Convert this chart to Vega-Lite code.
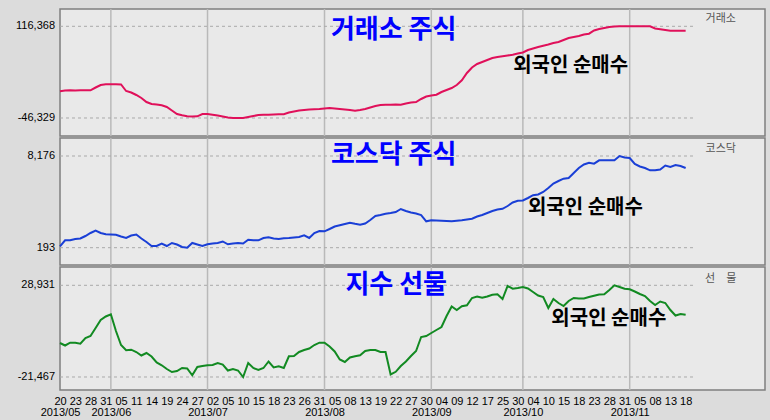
{
"$schema": "https://vega.github.io/schema/vega-lite/v6.json",
"background": "#dcdcdc",
"padding": {"left": 15, "top": 7, "right": 5, "bottom": 2},
"spacing": 2,
"bounds": "flush",
"config": {
  "font": "Liberation Sans",
  "locale": {"number": {"decimal": ".", "thousands": ",", "grouping": [3], "currency": ["$", ""], "minus": "-"}},
  "view": {"fill": "#e9e9e9", "stroke": "#7f7f7f", "strokeWidth": 1.5}
},
"datasets": {
  "months": [{"i":10,"m":"2013/06"},{"i":29,"m":"2013/07"},{"i":52,"m":"2013/08"},{"i":73,"m":"2013/09"},{"i":91,"m":"2013/10"},{"i":112,"m":"2013/11"}],
  "main": [
{"i":0,"date":"2013-05-20","kse":1040,"kosdaq":315,"fut":-2781},
{"i":1,"date":"2013-05-21","kse":2460,"kosdaq":838,"fut":-4155},
{"i":2,"date":"2013-05-22","kse":2810,"kosdaq":838,"fut":-2616},
{"i":3,"date":"2013-05-23","kse":2460,"kosdaq":951,"fut":-2616},
{"i":4,"date":"2013-05-24","kse":2810,"kosdaq":994,"fut":-3166},
{"i":5,"date":"2013-05-27","kse":2810,"kosdaq":1212,"fut":-33},
{"i":6,"date":"2013-05-28","kse":2810,"kosdaq":1473,"fut":1066},
{"i":7,"date":"2013-05-29","kse":7780,"kosdaq":1691,"fut":5463},
{"i":8,"date":"2013-05-30","kse":12220,"kosdaq":1473,"fut":9860},
{"i":9,"date":"2013-05-31","kse":13460,"kosdaq":1360,"fut":11783},
{"i":10,"date":"2013-06-03","kse":13460,"kosdaq":1343,"fut":12993},
{"i":11,"date":"2013-06-04","kse":13460,"kosdaq":1325,"fut":3814},
{"i":12,"date":"2013-06-05","kse":13100,"kosdaq":1168,"fut":-3880},
{"i":13,"date":"2013-06-07","kse":1570,"kosdaq":1038,"fut":-6793},
{"i":14,"date":"2013-06-10","kse":-1090,"kosdaq":1256,"fut":-6463},
{"i":15,"date":"2013-06-11","kse":-5530,"kosdaq":1343,"fut":-7727},
{"i":16,"date":"2013-06-12","kse":-10850,"kosdaq":994,"fut":-9651},
{"i":17,"date":"2013-06-13","kse":-17950,"kosdaq":690,"fut":-8277},
{"i":18,"date":"2013-06-14","kse":-21500,"kosdaq":341,"fut":-10201},
{"i":19,"date":"2013-06-17","kse":-22380,"kosdaq":341,"fut":-13498},
{"i":20,"date":"2013-06-18","kse":-23800,"kosdaq":542,"fut":-15037},
{"i":21,"date":"2013-06-19","kse":-26820,"kosdaq":341,"fut":-17071},
{"i":22,"date":"2013-06-20","kse":-33030,"kosdaq":603,"fut":-18719},
{"i":23,"date":"2013-06-21","kse":-39240,"kosdaq":472,"fut":-18170},
{"i":24,"date":"2013-06-24","kse":-41550,"kosdaq":254,"fut":-16521},
{"i":25,"date":"2013-06-25","kse":-43320,"kosdaq":193,"fut":-16796},
{"i":26,"date":"2013-06-26","kse":-43670,"kosdaq":603,"fut":-20533},
{"i":27,"date":"2013-06-27","kse":-43320,"kosdaq":472,"fut":-15971},
{"i":28,"date":"2013-06-28","kse":-39240,"kosdaq":341,"fut":-15422},
{"i":29,"date":"2013-07-01","kse":-39240,"kosdaq":489,"fut":-15037},
{"i":30,"date":"2013-07-02","kse":-40480,"kosdaq":559,"fut":-14872},
{"i":31,"date":"2013-07-03","kse":-41900,"kosdaq":603,"fut":-13773},
{"i":32,"date":"2013-07-04","kse":-43670,"kosdaq":733,"fut":-14597},
{"i":33,"date":"2013-07-05","kse":-45450,"kosdaq":489,"fut":-17895},
{"i":34,"date":"2013-07-08","kse":-46329,"kosdaq":559,"fut":-17071},
{"i":35,"date":"2013-07-09","kse":-46329,"kosdaq":603,"fut":-17895},
{"i":36,"date":"2013-07-10","kse":-46329,"kosdaq":559,"fut":-21467},
{"i":37,"date":"2013-07-11","kse":-44560,"kosdaq":890,"fut":-13773},
{"i":38,"date":"2013-07-12","kse":-42790,"kosdaq":838,"fut":-16521},
{"i":39,"date":"2013-07-15","kse":-41010,"kosdaq":838,"fut":-17620},
{"i":40,"date":"2013-07-16","kse":-40480,"kosdaq":1038,"fut":-16521},
{"i":41,"date":"2013-07-17","kse":-40480,"kosdaq":1099,"fut":-12949},
{"i":42,"date":"2013-07-18","kse":-40130,"kosdaq":994,"fut":-16246},
{"i":43,"date":"2013-07-19","kse":-39770,"kosdaq":951,"fut":-15587},
{"i":44,"date":"2013-07-22","kse":-39770,"kosdaq":1012,"fut":-16521},
{"i":45,"date":"2013-07-23","kse":-36580,"kosdaq":1038,"fut":-10091},
{"i":46,"date":"2013-07-24","kse":-34800,"kosdaq":1081,"fut":-9926},
{"i":47,"date":"2013-07-25","kse":-33030,"kosdaq":1125,"fut":-7727},
{"i":48,"date":"2013-07-26","kse":-32140,"kosdaq":1273,"fut":-6628},
{"i":49,"date":"2013-07-29","kse":-31250,"kosdaq":1038,"fut":-5804},
{"i":50,"date":"2013-07-30","kse":-30900,"kosdaq":1473,"fut":-3880},
{"i":51,"date":"2013-07-31","kse":-30370,"kosdaq":1647,"fut":-2616},
{"i":52,"date":"2013-08-01","kse":-29480,"kosdaq":1621,"fut":-2616},
{"i":53,"date":"2013-08-02","kse":-28590,"kosdaq":1821,"fut":-4705},
{"i":54,"date":"2013-08-05","kse":-29480,"kosdaq":2039,"fut":-7453},
{"i":55,"date":"2013-08-06","kse":-30370,"kosdaq":2152,"fut":-11849},
{"i":56,"date":"2013-08-07","kse":-31250,"kosdaq":2257,"fut":-13223},
{"i":57,"date":"2013-08-08","kse":-32140,"kosdaq":2370,"fut":-10750},
{"i":58,"date":"2013-08-09","kse":-33380,"kosdaq":2274,"fut":-10091},
{"i":59,"date":"2013-08-12","kse":-32140,"kosdaq":2196,"fut":-9541},
{"i":60,"date":"2013-08-13","kse":-30370,"kosdaq":2300,"fut":-7178},
{"i":61,"date":"2013-08-14","kse":-27710,"kosdaq":2605,"fut":-6628},
{"i":62,"date":"2013-08-16","kse":-25040,"kosdaq":2953,"fut":-6628},
{"i":63,"date":"2013-08-19","kse":-23270,"kosdaq":3040,"fut":-7727},
{"i":64,"date":"2013-08-20","kse":-22740,"kosdaq":3153,"fut":-7727},
{"i":65,"date":"2013-08-21","kse":-22740,"kosdaq":3214,"fut":-20093},
{"i":66,"date":"2013-08-22","kse":-22380,"kosdaq":3301,"fut":-18609},
{"i":67,"date":"2013-08-23","kse":-22740,"kosdaq":3562,"fut":-15422},
{"i":68,"date":"2013-08-26","kse":-20610,"kosdaq":3388,"fut":-12949},
{"i":69,"date":"2013-08-27","kse":-18830,"kosdaq":3258,"fut":-9926},
{"i":70,"date":"2013-08-28","kse":-17950,"kosdaq":3171,"fut":-7178},
{"i":71,"date":"2013-08-29","kse":-12620,"kosdaq":3040,"fut":517},
{"i":72,"date":"2013-08-30","kse":-8190,"kosdaq":2492,"fut":1066},
{"i":73,"date":"2013-09-02","kse":-6410,"kosdaq":2579,"fut":2715},
{"i":74,"date":"2013-09-03","kse":-4990,"kosdaq":2561,"fut":4364},
{"i":75,"date":"2013-09-04","kse":-200,"kosdaq":2535,"fut":6013},
{"i":76,"date":"2013-09-05","kse":3350,"kosdaq":2518,"fut":12058},
{"i":77,"date":"2013-09-06","kse":6890,"kosdaq":2492,"fut":17279},
{"i":78,"date":"2013-09-09","kse":12220,"kosdaq":2535,"fut":15356},
{"i":79,"date":"2013-09-10","kse":20560,"kosdaq":2579,"fut":17389},
{"i":80,"date":"2013-09-11","kse":33510,"kosdaq":2648,"fut":17939},
{"i":81,"date":"2013-09-12","kse":43270,"kosdaq":2718,"fut":21951},
{"i":82,"date":"2013-09-13","kse":49480,"kosdaq":2909,"fut":22775},
{"i":83,"date":"2013-09-16","kse":53030,"kosdaq":3040,"fut":22061},
{"i":84,"date":"2013-09-17","kse":56570,"kosdaq":3214,"fut":22775},
{"i":85,"date":"2013-09-23","kse":60120,"kosdaq":3388,"fut":23765},
{"i":86,"date":"2013-09-24","kse":61900,"kosdaq":3519,"fut":23985},
{"i":87,"date":"2013-09-25","kse":63140,"kosdaq":3580,"fut":21401},
{"i":88,"date":"2013-09-26","kse":64560,"kosdaq":3823,"fut":28546},
{"i":89,"date":"2013-09-27","kse":65980,"kosdaq":4128,"fut":27062},
{"i":90,"date":"2013-09-30","kse":68110,"kosdaq":4276,"fut":27447},
{"i":91,"date":"2013-10-01","kse":69880,"kosdaq":4302,"fut":27997},
{"i":92,"date":"2013-10-02","kse":74320,"kosdaq":4520,"fut":27172},
{"i":93,"date":"2013-10-04","kse":76980,"kosdaq":4764,"fut":25249},
{"i":94,"date":"2013-10-07","kse":79640,"kosdaq":4825,"fut":23325},
{"i":95,"date":"2013-10-08","kse":81770,"kosdaq":5042,"fut":22501},
{"i":96,"date":"2013-10-10","kse":84080,"kosdaq":5390,"fut":16455},
{"i":97,"date":"2013-10-11","kse":86740,"kosdaq":5782,"fut":21401},
{"i":98,"date":"2013-10-14","kse":88510,"kosdaq":6000,"fut":19203},
{"i":99,"date":"2013-10-15","kse":92060,"kosdaq":6200,"fut":17554},
{"i":100,"date":"2013-10-16","kse":95610,"kosdaq":6261,"fut":20302},
{"i":101,"date":"2013-10-17","kse":97380,"kosdaq":6696,"fut":21951},
{"i":102,"date":"2013-10-18","kse":99160,"kosdaq":7131,"fut":21676},
{"i":103,"date":"2013-10-21","kse":101820,"kosdaq":7436,"fut":21676},
{"i":104,"date":"2013-10-22","kse":103240,"kosdaq":7593,"fut":22501},
{"i":105,"date":"2013-10-23","kse":108920,"kosdaq":7506,"fut":23215},
{"i":106,"date":"2013-10-24","kse":111580,"kosdaq":7802,"fut":23875},
{"i":107,"date":"2013-10-25","kse":113350,"kosdaq":7802,"fut":23985},
{"i":108,"date":"2013-10-28","kse":115130,"kosdaq":7802,"fut":26348},
{"i":109,"date":"2013-10-29","kse":115840,"kosdaq":7802,"fut":28931},
{"i":110,"date":"2013-10-30","kse":116368,"kosdaq":8176,"fut":27997},
{"i":111,"date":"2013-10-31","kse":116368,"kosdaq":8045,"fut":27007},
{"i":112,"date":"2013-11-01","kse":116368,"kosdaq":8002,"fut":26733},
{"i":113,"date":"2013-11-04","kse":116368,"kosdaq":7480,"fut":25523},
{"i":114,"date":"2013-11-05","kse":116368,"kosdaq":7262,"fut":24149},
{"i":115,"date":"2013-11-06","kse":116368,"kosdaq":7131,"fut":23050},
{"i":116,"date":"2013-11-07","kse":116368,"kosdaq":6931,"fut":20302},
{"i":117,"date":"2013-11-08","kse":112470,"kosdaq":6931,"fut":18104},
{"i":118,"date":"2013-11-11","kse":111050,"kosdaq":7001,"fut":20027},
{"i":119,"date":"2013-11-12","kse":109800,"kosdaq":7349,"fut":19203},
{"i":120,"date":"2013-11-13","kse":108560,"kosdaq":7218,"fut":15356},
{"i":121,"date":"2013-11-14","kse":108560,"kosdaq":7393,"fut":12333},
{"i":122,"date":"2013-11-15","kse":108560,"kosdaq":7305,"fut":13157},
{"i":123,"date":"2013-11-18","kse":108560,"kosdaq":7131,"fut":12773}
  ]
},
"data": {"name": "main"},
"vconcat": [
 {
  "width": 705, "height": 127,
  "layer": [
   {"data": {"name": "months"}, "mark": {"type": "rule", "color": "#b9b9b9", "strokeWidth": 1.5},
    "encoding": {"x": {"field": "i", "type": "quantitative", "scale": {"domain": [0, 138.6], "nice": false, "zero": false}, "axis": null}}},
   {"data": {"values": [{"v": 116368}, {"v": -46329}]}, "mark": {"type": "rule", "color": "#a9a9a9", "strokeDash": [3, 3], "strokeWidth": 1},
    "encoding": {"x": {"datum": 0, "type": "quantitative", "axis": null}, "x2": {"datum": 124.5},
     "y": {"field": "v", "type": "quantitative", "scale": {"domain": [-78266, 147063], "nice": false, "zero": false}, "axis": null}}},
   {"data": {"values": [{"v": 116368}, {"v": -46329}]}, "mark": {"type": "text", "align": "right", "baseline": "middle", "dx": -5, "font": "Liberation Sans", "fontSize": 11, "color": "#000000"},
    "encoding": {"x": {"datum": 0, "type": "quantitative", "axis": null}, "y": {"field": "v", "type": "quantitative", "axis": null}, "text": {"field": "v", "type": "quantitative", "format": ","}}},
   {"mark": {"type": "line", "color": "#e0105a", "strokeWidth": 2},
    "encoding": {"x": {"field": "i", "type": "quantitative", "axis": null}, "y": {"field": "kse", "type": "quantitative", "axis": null}}},
   {"data": {"values": [{}]}, "mark": {"type": "text", "text": "거래소 주식", "font": "Noto Sans CJK KR", "fontWeight": "bold", "fontSize": 26, "color": "#0000ff", "align": "center", "baseline": "middle"},
    "encoding": {"x": {"datum": 65.6, "type": "quantitative", "axis": null}, "y": {"datum": 109803, "type": "quantitative", "axis": null}}},
   {"data": {"values": [{}]}, "mark": {"type": "text", "text": "외국인 순매수", "font": "Noto Sans CJK KR", "fontWeight": "bold", "fontSize": 20, "color": "#000000", "align": "center", "baseline": "middle"},
    "encoding": {"x": {"datum": 100.4, "type": "quantitative", "axis": null}, "y": {"datum": 45928, "type": "quantitative", "axis": null}}},
   {"data": {"values": [{}]}, "mark": {"type": "text", "text": "거래소", "font": "Noto Sans CJK KR", "fontSize": 11, "color": "#555555", "align": "center", "baseline": "middle"},
    "encoding": {"x": {"datum": 129.9, "type": "quantitative", "axis": null}, "y": {"datum": 129320, "type": "quantitative", "axis": null}}}
  ]
 },
 {
  "width": 705, "height": 127,
  "layer": [
   {"data": {"name": "months"}, "mark": {"type": "rule", "color": "#b9b9b9", "strokeWidth": 1.5},
    "encoding": {"x": {"field": "i", "type": "quantitative", "scale": {"domain": [0, 138.6], "nice": false, "zero": false}, "axis": null}}},
   {"data": {"values": [{"v": 8176}, {"v": 193}]}, "mark": {"type": "rule", "color": "#a9a9a9", "strokeDash": [3, 3], "strokeWidth": 1},
    "encoding": {"x": {"datum": 0, "type": "quantitative", "axis": null}, "x2": {"datum": 124.5},
     "y": {"field": "v", "type": "quantitative", "scale": {"domain": [-1313, 9743], "nice": false, "zero": false}, "axis": null}}},
   {"data": {"values": [{"v": 8176}, {"v": 193}]}, "mark": {"type": "text", "align": "right", "baseline": "middle", "dx": -5, "font": "Liberation Sans", "fontSize": 11, "color": "#000000"},
    "encoding": {"x": {"datum": 0, "type": "quantitative", "axis": null}, "y": {"field": "v", "type": "quantitative", "axis": null}, "text": {"field": "v", "type": "quantitative", "format": ","}}},
   {"mark": {"type": "line", "color": "#1a3fd6", "strokeWidth": 2},
    "encoding": {"x": {"field": "i", "type": "quantitative", "axis": null}, "y": {"field": "kosdaq", "type": "quantitative", "axis": null}}},
   {"data": {"values": [{}]}, "mark": {"type": "text", "text": "코스닥 주식", "font": "Noto Sans CJK KR", "fontWeight": "bold", "fontSize": 26, "color": "#0000ff", "align": "center", "baseline": "middle"},
    "encoding": {"x": {"datum": 65.6, "type": "quantitative", "axis": null}, "y": {"datum": 8263, "type": "quantitative", "axis": null}}},
   {"data": {"values": [{}]}, "mark": {"type": "text", "text": "외국인 순매수", "font": "Noto Sans CJK KR", "fontWeight": "bold", "fontSize": 20, "color": "#000000", "align": "center", "baseline": "middle"},
    "encoding": {"x": {"datum": 103.3, "type": "quantitative", "axis": null}, "y": {"datum": 3606, "type": "quantitative", "axis": null}}},
   {"data": {"values": [{}]}, "mark": {"type": "text", "text": "코스닥", "font": "Noto Sans CJK KR", "fontSize": 11, "color": "#555555", "align": "center", "baseline": "middle"},
    "encoding": {"x": {"datum": 129.9, "type": "quantitative", "axis": null}, "y": {"datum": 8811, "type": "quantitative", "axis": null}}}
  ]
 },
 {
  "width": 705, "height": 123,
  "resolve": {"axis": {"x": "independent"}},
  "layer": [
   {"data": {"name": "months"}, "mark": {"type": "rule", "color": "#b9b9b9", "strokeWidth": 1.5},
    "encoding": {"x": {"field": "i", "type": "quantitative", "scale": {"domain": [0, 138.6], "nice": false, "zero": false},
     "axis": {"orient": "bottom", "values": [0, 10, 29, 52, 73, 91, 112], "title": null, "grid": false, "ticks": false, "domain": false, "labelPadding": 16, "labelFlush": false, "labelOverlap": false, "labelBound": false, "labelFontSize": 11, "labelFont": "Liberation Sans", "labelColor": "#000000",
      "labelExpr": "['2013/05','2013/06','2013/07','2013/08','2013/09','2013/10','2013/11'][indexof([0,10,29,52,73,91,112], datum.value)]"}}}},
   {"data": {"values": [{"v": 28931}, {"v": -21467}]}, "mark": {"type": "rule", "color": "#a9a9a9", "strokeDash": [3, 3], "strokeWidth": 1},
    "encoding": {"x": {"datum": 0, "type": "quantitative", "axis": null}, "x2": {"datum": 124.5},
     "y": {"field": "v", "type": "quantitative", "scale": {"domain": [-28612, 38989], "nice": false, "zero": false}, "axis": null}}},
   {"data": {"values": [{"v": 28931}, {"v": -21467}]}, "mark": {"type": "text", "align": "right", "baseline": "middle", "dx": -5, "font": "Liberation Sans", "fontSize": 11, "color": "#000000"},
    "encoding": {"x": {"datum": 0, "type": "quantitative", "axis": null}, "y": {"field": "v", "type": "quantitative", "axis": null}, "text": {"field": "v", "type": "quantitative", "format": ","}}},
   {"mark": {"type": "line", "color": "#128a22", "strokeWidth": 2},
    "encoding": {"x": {"field": "i", "type": "quantitative",
      "axis": {"orient": "bottom", "values": [0,3,6,9,12,15,18,21,24,27,30,33,36,39,42,45,48,51,54,57,60,63,66,69,72,75,78,81,84,87,90,93,96,99,102,105,108,111,114,117,120,123],
       "title": null, "grid": false, "ticks": false, "domain": false, "labelPadding": 5, "labelFlush": false, "labelOverlap": false, "labelBound": false, "labelFontSize": 11, "labelFont": "Liberation Sans", "labelColor": "#000000",
       "labelExpr": "['20','23','28','31','05','11','14','19','24','27','02','05','10','15','18','23','26','31','05','08','13','19','22','27','30','04','09','12','17','25','30','04','10','15','18','23','28','31','05','08','13','18'][round(datum.value/3)]"}},
     "y": {"field": "fut", "type": "quantitative", "axis": null}}},
   {"data": {"values": [{}]}, "mark": {"type": "text", "text": "지수 선물", "font": "Noto Sans CJK KR", "fontWeight": "bold", "fontSize": 26, "color": "#0000ff", "align": "center", "baseline": "middle"},
    "encoding": {"x": {"datum": 66.1, "type": "quantitative", "axis": null}, "y": {"datum": 29096, "type": "quantitative", "axis": null}}},
   {"data": {"values": [{}]}, "mark": {"type": "text", "text": "외국인 순매수", "font": "Noto Sans CJK KR", "fontWeight": "bold", "fontSize": 20, "color": "#000000", "align": "center", "baseline": "middle"},
    "encoding": {"x": {"datum": 107.9, "type": "quantitative", "axis": null}, "y": {"datum": 10574, "type": "quantitative", "axis": null}}},
   {"data": {"values": [{}]}, "mark": {"type": "text", "text": "선　물", "font": "Noto Sans CJK KR", "fontSize": 11, "color": "#555555", "align": "center", "baseline": "middle"},
    "encoding": {"x": {"datum": 129.9, "type": "quantitative", "axis": null}, "y": {"datum": 32558, "type": "quantitative", "axis": null}}}
  ]
 }
]
}
